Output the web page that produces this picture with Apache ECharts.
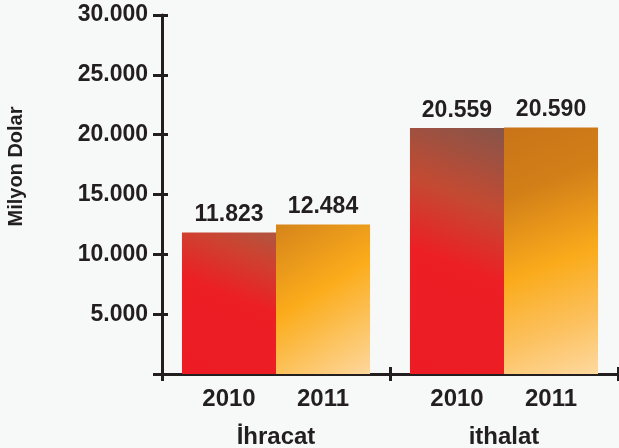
<!DOCTYPE html>
<html><head><meta charset="utf-8">
<script src="https://cdn.jsdelivr.net/npm/echarts@6/dist/echarts.min.js"></script>
<style>html,body{margin:0;padding:0;background:#f7f9f9}#c{width:619px;height:448px}</style>
</head><body><div id="c"></div>
<script>
const groups = ['İhracat', 'ithalat'];
const years = ['2010', '2011'];
const values2010 = [11823, 20559];
const values2011 = [12484, 20590];
const yTicks = [0, 5000, 10000, 15000, 20000, 25000, 30000];
const yName = 'Milyon Dolar';

const FONT = "'Liberation Sans','Arial',sans-serif";
const INK = '#231f20';
const fmt = v => String(v).replace(/\B(?=(\d{3})+(?!\d))/g, '.');

function grad(x, y, x2, y2, stops) {
  return new echarts.graphic.LinearGradient(x, y, x2, y2, stops.map(s => ({offset: s[0], color: s[1]})));
}
const red = [
  grad(0.2, 1, 0.8, 0, [[0, '#ed1c24'], [0.55, '#ec1f25'], [0.85, '#cd4230'], [1, '#b5523d']]),
  grad(0, 1, 1, 0, [[0, '#ed1c24'], [0.45, '#ec1f25'], [0.7, '#c44a32'], [1, '#85554a']])
];
const orange = [
  grad(0, 0, 1, 1, [[0, '#d5841a'], [0.45, '#fbac1b'], [0.75, '#fcc462'], [1, '#fed79e']]),
  grad(0, 0, 1, 1, [[0, '#c97418'], [0.25, '#d27f18'], [0.55, '#faab1b'], [0.8, '#fcc262'], [1, '#fed99f']])
];

const labelCommon = {
  show: true, position: 'top', distance: 6,
  fontFamily: FONT, fontWeight: 'bold', fontSize: 23, color: INK,
  formatter: p => fmt(p.value)
};

const chart = echarts.init(document.getElementById('c'), null, {renderer: 'canvas'});
const lineStyle = {color: INK, width: 3};
chart.setOption({
  backgroundColor: '#f7f9f9',
  animation: false,
  grid: {left: 162, right: 1, top: 15, bottom: 74, containLabel: false, outerBoundsMode: 'none'},
  xAxis: [{
    type: 'category', data: groups, position: 'bottom',
    axisLine: {show: true, lineStyle: lineStyle},
    axisTick: {show: true, inside: false, length: 7, lineStyle: lineStyle},
    axisLabel: {
      margin: 10, interval: 0, color: INK, fontFamily: FONT, fontWeight: 'bold',
      formatter: v => '{y|' + years[0] + '}{y|' + years[1] + '}\n{c|' + v + '}',
      rich: {
        y: {width: 94, align: 'center', fontSize: 24, fontWeight: 'bold', fontFamily: FONT, color: INK, lineHeight: 30},
        c: {fontSize: 24, fontWeight: 'bold', fontFamily: FONT, color: INK, lineHeight: 46}
      }
    }
  }, {
    type: 'category', data: groups, position: 'bottom',
    axisLine: {show: false},
    axisTick: {show: true, inside: true, length: 7, lineStyle: lineStyle},
    axisLabel: {show: false}
  }],
  yAxis: [{
    type: 'value', min: yTicks[0], max: yTicks[yTicks.length - 1], interval: yTicks[1] - yTicks[0],
    position: 'left',
    name: yName, nameLocation: 'middle', nameRotate: 90, nameGap: 136,
    nameTextStyle: {fontFamily: FONT, fontWeight: 'bold', fontSize: 20, color: INK, padding: [0, 0, 0, 56]},
    axisLine: {show: true, lineStyle: lineStyle},
    axisTick: {show: true, inside: false, length: 9, lineStyle: lineStyle},
    splitLine: {show: false},
    axisLabel: {
      margin: 14, color: INK, fontFamily: FONT, fontWeight: 'bold', fontSize: 23,
      formatter: v => v === 0 ? '' : fmt(v)
    }
  }, {
    type: 'value', min: yTicks[0], max: yTicks[yTicks.length - 1], interval: yTicks[1] - yTicks[0],
    position: 'left',
    axisLine: {show: false},
    axisTick: {show: true, inside: true, length: 6, lineStyle: lineStyle},
    splitLine: {show: false},
    axisLabel: {show: false}
  }],
  series: [{
    name: years[0], type: 'bar', xAxisIndex: 0, yAxisIndex: 0,
    barGap: '0%', barCategoryGap: '17.5%',
    data: values2010.map((v, i) => ({value: v, itemStyle: {color: red[i]}})),
    label: labelCommon
  }, {
    name: years[1], type: 'bar', xAxisIndex: 0, yAxisIndex: 0,
    barGap: '0%', barCategoryGap: '17.5%',
    data: values2011.map((v, i) => ({value: v, itemStyle: {color: orange[i]}})),
    label: labelCommon
  }]
});
</script></body></html>
